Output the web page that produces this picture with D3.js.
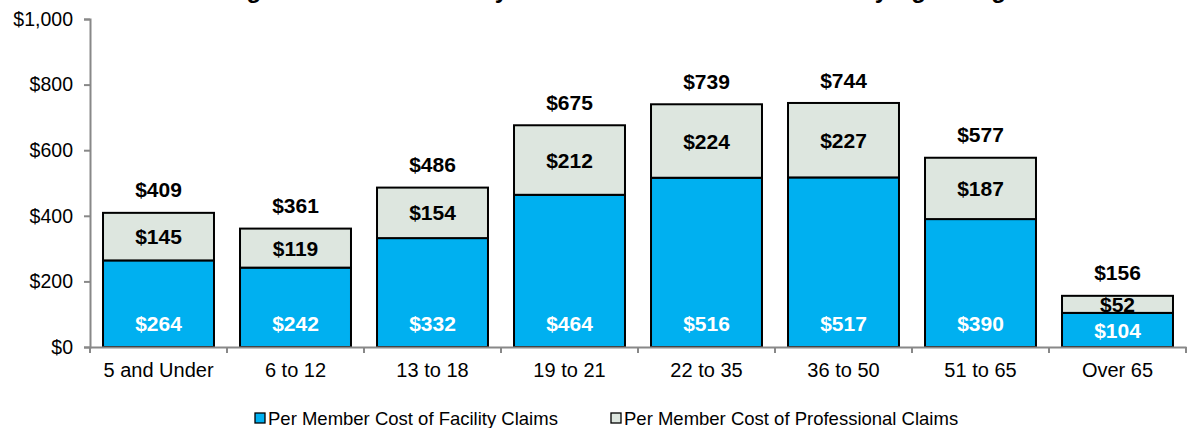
<!DOCTYPE html>
<html>
<head>
<meta charset="utf-8">
<script src="https://cdn.jsdelivr.net/npm/d3@7"></script>
<style>
  body { margin: 0; background: #fff; }
  svg { display: block; font-family: "Liberation Sans", Arial, sans-serif; }
</style>
</head>
<body>
<svg id="chart" width="1188" height="428"></svg>
<script>
// Data
var ageRanges = ['5 and Under', '6 to 12', '13 to 18', '19 to 21', '22 to 35', '36 to 50', '51 to 65', 'Over 65'];
var facilityCost = [264, 242, 332, 464, 516, 517, 390, 104];
var professionalCost = [145, 119, 154, 212, 224, 227, 187, 52];
var totalCost = [409, 361, 486, 675, 739, 744, 577, 156];
var yTicks = [0, 200, 400, 600, 800, 1000];
var seriesNames = ['Per Member Cost of Facility Claims', 'Per Member Cost of Professional Claims'];

var svg = d3.select('#chart');
var margin = { top: 19, right: 2, bottom: 81, left: 90 };
var W = 1188, H = 428;

var x = d3.scaleBand().domain(ageRanges).range([margin.left, W - margin.right]).paddingInner(0.19).paddingOuter(0.095);
var y = d3.scaleLinear().domain([0, 1000]).range([H - margin.bottom, margin.top]);
var fmt = function (v) { return '$' + d3.format(',')(v); };

var colors = ['#00B0F0', '#DDE6DF'];
var font = '"Liberation Sans", Arial, sans-serif';

// Title (cropped at top in the original)
svg.append('text').attr('x', 600).attr('y', -2)
  .attr('text-anchor', 'middle').style('font-size', '24px').style('font-weight', 'bold')
  .text('Average Per Member Facility and Professional Claims Cost by Age Range');

// Y axis
var yAxis = svg.append('g').attr('transform', 'translate(' + margin.left + ',0)')
  .call(d3.axisLeft(y).tickValues(yTicks).tickFormat(fmt).tickSize(6).tickPadding(11));
yAxis.attr('font-size', null).attr('font-family', null);
yAxis.select('.domain').attr('stroke', '#888').attr('stroke-width', 2);
yAxis.selectAll('.tick line').attr('stroke', '#888').attr('stroke-width', 2);
yAxis.selectAll('.tick text').style('font-size', '19.5px').attr('fill', '#000').style('font-family', font);

// Bars
var g = svg.append('g');
ageRanges.forEach(function (cat, i) {
  var bx = x(cat), bw = x.bandwidth();
  var f = facilityCost[i], p = professionalCost[i];
  g.append('rect').attr('x', bx).attr('y', y(f)).attr('width', bw).attr('height', y(0) - y(f))
    .attr('fill', colors[0]).attr('stroke', '#000').attr('stroke-width', 2);
  g.append('rect').attr('x', bx).attr('y', y(f + p)).attr('width', bw).attr('height', y(f) - y(f + p))
    .attr('fill', colors[1]).attr('stroke', '#000').attr('stroke-width', 2);

  var cx = bx + bw / 2;
  var fy = Math.max(y(0) - 24, (y(0) + y(f)) / 2);
  g.append('text').attr('x', cx).attr('y', fy).attr('dy', '0.36em')
    .attr('text-anchor', 'middle').style('font-size', '21px').style('font-weight', 'bold')
    .attr('fill', '#fff').text(fmt(f));
  g.append('text').attr('x', cx).attr('y', (y(f) + y(f + p)) / 2).attr('dy', '0.36em')
    .attr('text-anchor', 'middle').style('font-size', '21px').style('font-weight', 'bold')
    .attr('fill', '#000').text(fmt(p));
  g.append('text').attr('x', cx).attr('y', y(totalCost[i]) - 23).attr('dy', '0.36em')
    .attr('text-anchor', 'middle').style('font-size', '21px').style('font-weight', 'bold')
    .attr('fill', '#000').text(fmt(totalCost[i]));
});

// X axis
var xAxis = svg.append('g').attr('transform', 'translate(0,' + y(0) + ')')
  .call(d3.axisBottom(x).tickSize(0).tickPadding(16));
xAxis.attr('font-size', null).attr('font-family', null);
xAxis.select('.domain').attr('stroke', '#888').attr('stroke-width', 2);
xAxis.selectAll('.tick text').style('font-size', '20px').attr('fill', '#000').style('font-family', font);
// boundary ticks between categories
var step = x.step();
var bounds = d3.range(ageRanges.length + 1).map(function (k) { return margin.left + k * step; });
xAxis.selectAll('.bound').data(bounds).enter().append('line')
  .attr('x1', function (d) { return d; }).attr('x2', function (d) { return d; })
  .attr('y1', 0).attr('y2', 6).attr('stroke', '#888').attr('stroke-width', 2);

// Legend
var legendX = [255, 611];
seriesNames.forEach(function (name, i) {
  var lg = svg.append('g').attr('transform', 'translate(' + legendX[i] + ',418)');
  lg.append('rect').attr('x', 0).attr('y', -5).attr('width', 10).attr('height', 10)
    .attr('fill', colors[i]).attr('stroke', '#000').attr('stroke-width', 1.3);
  lg.append('text').attr('x', 13).attr('y', 0).attr('dy', '0.36em')
    .style('font-size', '18.5px').attr('fill', '#000').text(name);
});
</script>
</body>
</html>
